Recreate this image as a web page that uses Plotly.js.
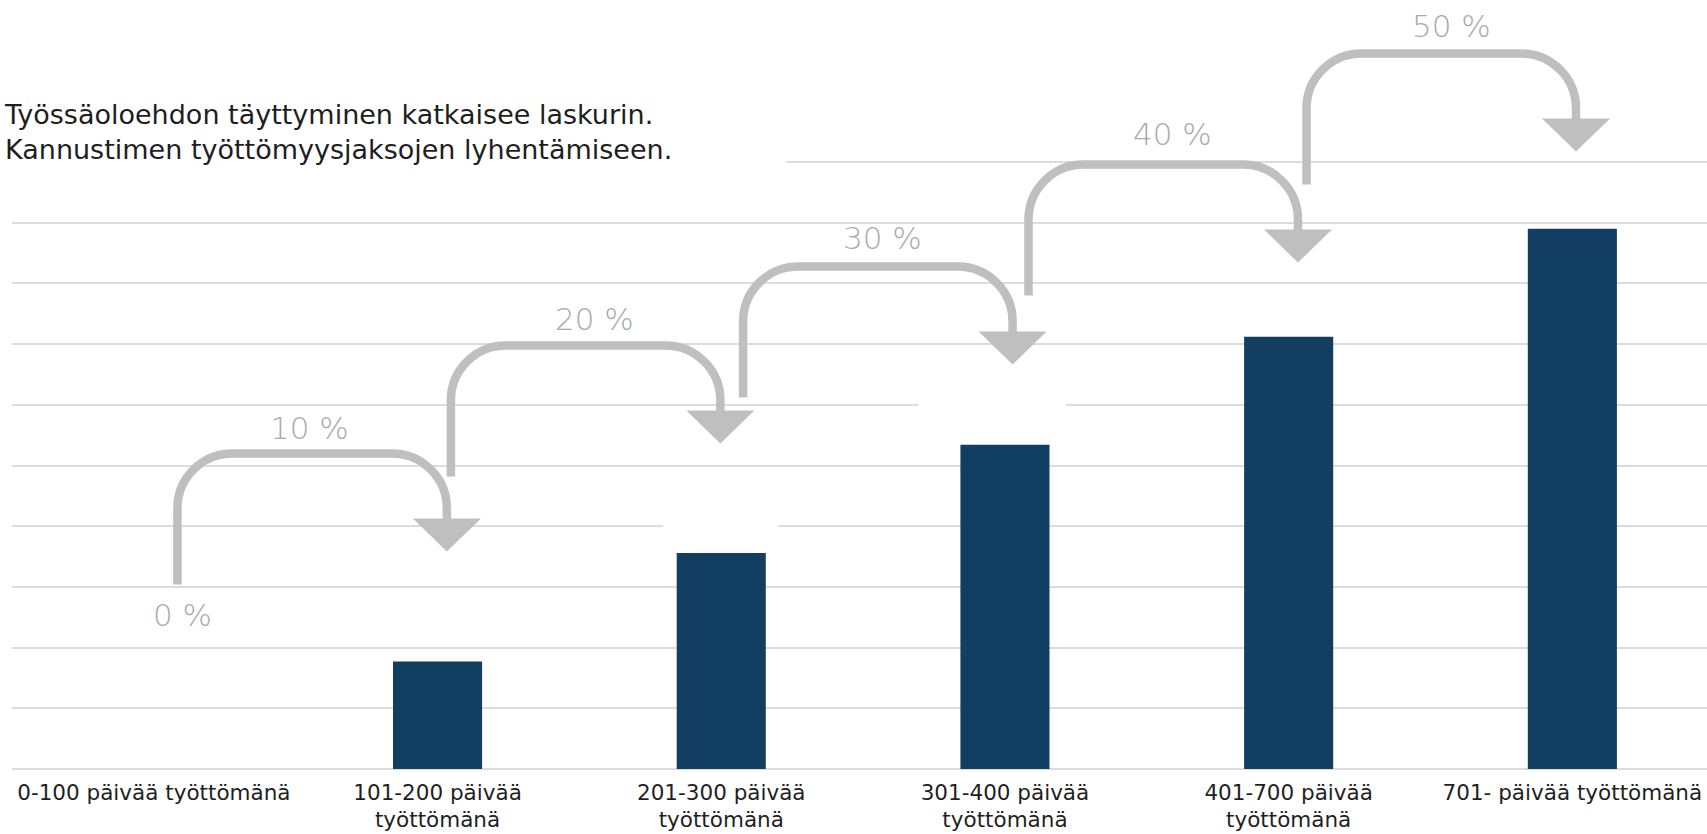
<!DOCTYPE html>
<html>
<head>
<meta charset="utf-8">
<script src="https://cdn.plot.ly/plotly-3.0.1.min.js"></script>
<style>
  html, body { margin: 0; padding: 0; background: #ffffff; }
  #chart { width: 1707px; height: 834px; }
</style>
</head>
<body>
<div id="chart"></div>
<script>
// ---- data ----
const categories = [
  '0-100 päivää työttömänä',
  '101-200 päivää<br>työttömänä',
  '201-300 päivää<br>työttömänä',
  '301-400 päivää<br>työttömänä',
  '401-700 päivää<br>työttömänä',
  '701- päivää työttömänä'
];
const barValues = [0, 177, 356, 534, 712, 890];
const stepLabels = ['0 %', '10 %', '20 %', '30 %', '40 %', '50 %'];
const gridTicks = [0, 100, 200, 300, 400, 500, 600, 700, 800, 900, 1000];
const noteText = 'Työssäoloehdon täyttyminen katkaisee laskurin.<br>Kannustimen työttömyysjaksojen lyhentämiseen.';

// ---- decoration anchors (axis units) ----
const arrowStemX = [0.083, 1.047, 2.077, 3.083, 4.063];
const arrowStemBottom = [304, 482, 612, 780, 963];
const stepLabelX = [0.100, 0.548, 1.553, 2.568, 3.592, 4.575];
const stepLabelY = [253, 561, 741, 874, 1046, 1224];

// ---- layout geometry ----
const W = 1707, H = 834;
const M = {l: 12, r: 0, t: 0, b: 60};
const xRange = [-0.5, 5.4746];
const yRange = [-8.24, 1266.9];
const plotW = W - M.l - M.r, plotH = H - M.t - M.b;
const kx = plotW / (xRange[1] - xRange[0]);   // px per x unit
const ky = plotH / (yRange[1] - yRange[0]);   // px per y unit
// page pixel <-> axis units
const pxX = x => M.l + (x - xRange[0]) * kx;
const pxY = y => M.t + plotH - (y - yRange[0]) * ky;
const dX = p => (p - M.l) / kx + xRange[0];
const dY = p => (M.t + plotH - p) / ky + yRange[0];

const ARROW_W = 269.5, ARROW_H = 131, R = 55, HEAD_DROP = 65, HEAD_HW = 34, HEAD_LEN = 33;
const arrowColor = '#bfbfbf';

function pt(px, py) { return dX(px).toFixed(4) + ',' + dY(py).toFixed(2); }

const shapes = [];
// white boxes that interrupt some gridlines (page px x-extent, grid value)
const gaps = [[0, 786, 1000], [663, 778, 400], [918, 1066, 600]];
gaps.forEach(g => {
  shapes.push({type: 'rect', xref: 'x', yref: 'y', layer: 'between',
    x0: dX(g[0]), x1: dX(g[1]), y0: g[2] - 8, y1: g[2] + 8,
    fillcolor: '#ffffff', line: {width: 0}});
});

arrowStemX.forEach((sx, i) => {
  const x0 = pxX(sx), y0 = pxY(arrowStemBottom[i]);
  const yt = y0 - ARROW_H, xe = x0 + ARROW_W;
  const c = 0.5523 * R;
  const path = 'M' + pt(x0, y0) +
    ' L' + pt(x0, yt + R) +
    ' C' + pt(x0, yt + R - c) + ' ' + pt(x0 + R - c, yt) + ' ' + pt(x0 + R, yt) +
    ' L' + pt(xe - R, yt) +
    ' C' + pt(xe - R + c, yt) + ' ' + pt(xe, yt + R - c) + ' ' + pt(xe, yt + R) +
    ' L' + pt(xe, yt + HEAD_DROP + 2);
  shapes.push({type: 'path', xref: 'x', yref: 'y', path: path,
    line: {color: arrowColor, width: 8.5}, layer: 'above'});
  const hy = yt + HEAD_DROP;
  const head = 'M' + pt(xe - HEAD_HW, hy) + ' L' + pt(xe + HEAD_HW, hy) +
    ' L' + pt(xe, hy + HEAD_LEN) + ' Z';
  shapes.push({type: 'path', xref: 'x', yref: 'y', path: head,
    fillcolor: arrowColor, line: {color: arrowColor, width: 0}, layer: 'above'});
});

const annotations = stepLabels.map((t, i) => ({
  x: stepLabelX[i], y: stepLabelY[i], xref: 'x', yref: 'y',
  text: t, showarrow: false, xanchor: 'center', yanchor: 'middle',
  font: {family: 'DejaVu Sans', size: 31, color: '#aaaaaa', weight: 200}
}));
annotations.push({
  xref: 'paper', yref: 'paper',
  x: (2 - M.l) / plotW, y: 1 - (132.5 - M.t) / plotH,
  xanchor: 'left', yanchor: 'middle', align: 'left',
  text: noteText, showarrow: false,
  font: {family: 'DejaVu Sans', size: 27, color: '#1e1e1e'}
});

const trace = {
  type: 'bar',
  x: categories.map((c, i) => i),
  y: barValues,
  width: 0.314,
  marker: {color: '#123f61', line: {width: 0}},
  hoverinfo: 'skip'
};

const layout = {
  width: W, height: H,
  margin: M,
  paper_bgcolor: '#ffffff', plot_bgcolor: '#ffffff',
  showlegend: false,
  xaxis: {
    type: 'linear', range: xRange, fixedrange: true,
    tickvals: categories.map((c, i) => i), ticktext: categories,
    showgrid: false, zeroline: false, showline: false, ticks: '',
    ticklabelstandoff: 3,
    tickfont: {family: 'DejaVu Sans', size: 21.5, color: '#1f1f1f'},
    automargin: false
  },
  yaxis: {
    range: yRange, fixedrange: true,
    tickvals: gridTicks, showticklabels: false, ticks: '',
    showgrid: true, gridcolor: '#dcdcdc', gridwidth: 2,
    zeroline: false, showline: false, automargin: false
  },
  shapes: shapes,
  annotations: annotations
};

Plotly.newPlot('chart', [trace], layout, {displayModeBar: false, staticPlot: true});
</script>
</body>
</html>
